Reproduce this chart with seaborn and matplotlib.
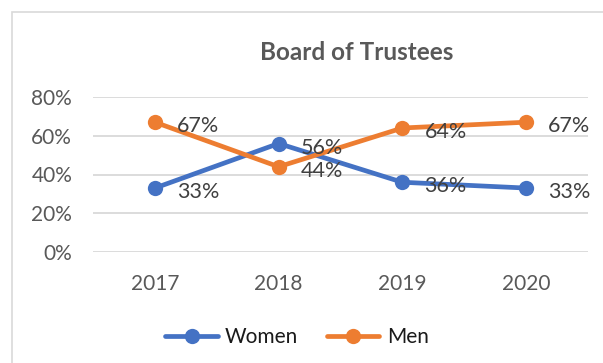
import matplotlib
matplotlib.use("Agg")
import matplotlib.pyplot as plt
from matplotlib.patches import Rectangle
from matplotlib.lines import Line2D
import pandas as pd
import seaborn as sns

years = ["2017", "2018", "2019", "2020"]
women = [33, 56, 36, 33]
men = [67, 44, 64, 67]
series_names = ["Women", "Men"]
colors = ["#4472C4", "#ED7D31"]
yticks = [0, 20, 40, 60, 80]

df = pd.DataFrame({
    "year": years * 2,
    "pos": list(range(len(years))) * 2,
    "value": women + men,
    "group": [series_names[0]] * len(years) + [series_names[1]] * len(years),
})

sns.set_theme(style="white")
plt.rcParams["font.family"] = ["Lato", "DejaVu Sans"]

W, H = 603, 363
fig = plt.figure(figsize=(W / 100, H / 100), dpi=100)
fig.patch.set_facecolor("white")

# chart frame
fig.patches.append(Rectangle((12 / W, -0.05), 1.1, 1.05 - 12 / H,
                             transform=fig.transFigure, fill=False,
                             edgecolor="#D9D9D9", linewidth=1.2, zorder=0))

ax = fig.add_axes([93 / W, 1 - 252 / H, (588 - 93) / W, (252 - 97) / H])
ax.set_facecolor("none")

sns.lineplot(data=df, x="pos", y="value", hue="group", palette=colors,
             hue_order=series_names, marker="o", markersize=11,
             markeredgewidth=0, linewidth=3.4, legend=False, ax=ax, zorder=3)

ax.set_xlim(-0.5, len(years) - 0.5)
ax.set_ylim(0, 80)
ax.set_yticks(yticks)
ax.set_yticklabels([f"{v}%" for v in yticks])
ax.set_xticks(range(len(years)))
ax.set_xticklabels(years)
for v in yticks:
    ax.axhline(v, color="#D9D9D9", linewidth=1.3, zorder=1)
for s in ax.spines.values():
    s.set_visible(False)
ax.tick_params(axis="both", length=0, labelsize=15, colors="#595959")
ax.tick_params(axis="y", pad=15)
ax.tick_params(axis="x", pad=16)
ax.set_xlabel("")
ax.set_ylabel("")

# value labels to the right of each point
for vals in (women, men):
    for i, v in enumerate(vals):
        ax.annotate(f"{v}%", (i, v), xytext=(16, -3), textcoords="offset points",
                    ha="left", va="center", fontsize=15.5, color="#404040",
                    zorder=4)

fig.text(357 / W, 1 - 52 / H, "Board of Trustees", ha="center", va="center",
         fontsize=17.5, fontweight="bold", color="#595959")

handles = [Line2D([0], [0], color=c, linewidth=3.4, marker="o", markersize=11,
                  markeredgewidth=0) for c in colors]
fig.legend(handles, series_names, loc="center", bbox_to_anchor=(297 / W, 1 - 337 / H),
           ncol=2, frameon=False, fontsize=15, handlelength=2.5,
           columnspacing=1.4, handletextpad=0.35, labelcolor="#1a1a1a")

fig.savefig("out.png", dpi=100, facecolor="white")
